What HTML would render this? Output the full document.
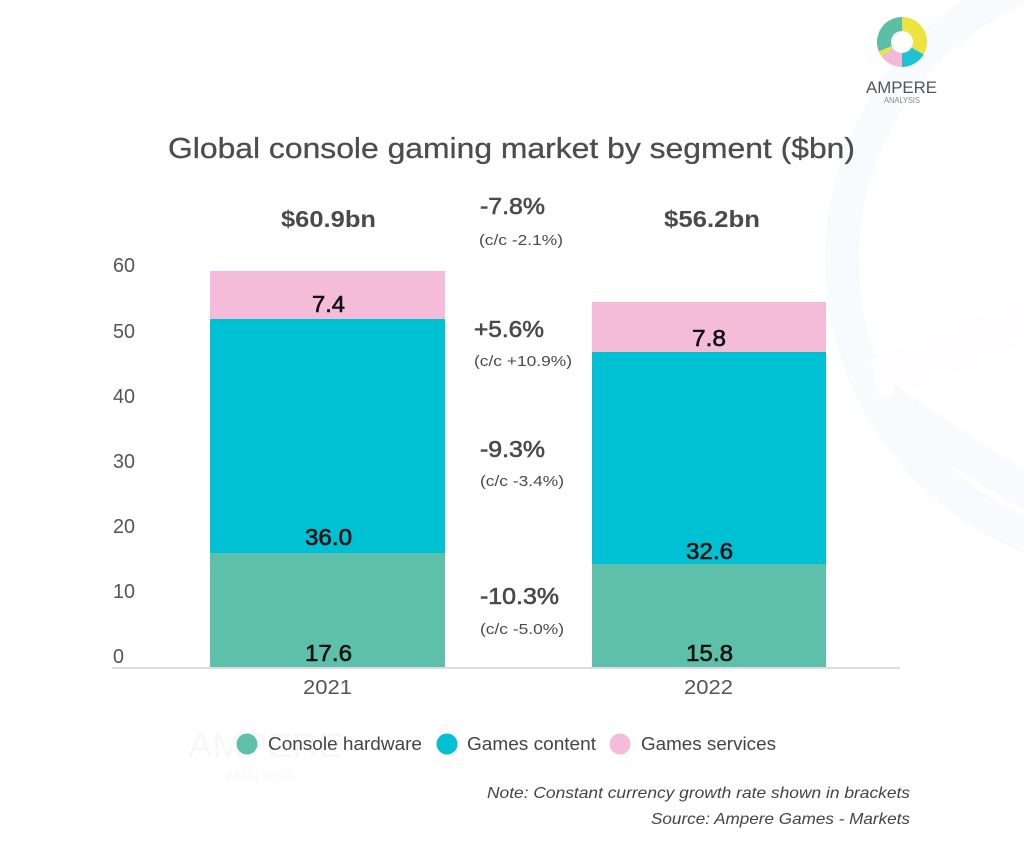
<!DOCTYPE html>
<html><head><meta charset="utf-8"><style>
html,body{margin:0;padding:0;background:#fff;}
svg{display:block;}
text{font-family:"Liberation Sans",sans-serif;}
</style></head><body>
<svg width="1024" height="858" viewBox="0 0 1024 858" xmlns="http://www.w3.org/2000/svg">
<rect width="1024" height="858" fill="#ffffff"/>
<!-- faint background arcs -->
<circle cx="1140" cy="260" r="298" fill="none" stroke="#f7fbfe" stroke-width="34"/>
<path d="M870 360 L1024 300 L1024 345 L880 400 Z" fill="#fffdfe"/>
<path d="M895 385 L1024 470 L1024 510 L885 425 Z" fill="#f8fbfe"/>

<!-- logo -->
<g fill="none" stroke-width="14">
<circle cx="902" cy="42" r="18" stroke="#ece33f" stroke-dasharray="37.7 200" transform="rotate(-90 902 42)"/>
<circle cx="902" cy="42" r="18" stroke="#1fc1d3" stroke-dasharray="18.85 200" transform="rotate(30 902 42)"/>
<circle cx="902" cy="42" r="18" stroke="#f2b9d8" stroke-dasharray="17.3 200" transform="rotate(90 902 42)"/>
<circle cx="902" cy="42" r="18" stroke="#ece33f" stroke-dasharray="4 200" transform="rotate(145 902 42)"/>
<circle cx="902" cy="42" r="18" stroke="#5cbea4" stroke-dasharray="35.2 200" transform="rotate(158 902 42)"/>
</g>
<text x="866" y="93" font-size="17" fill="#555" textLength="71" lengthAdjust="spacingAndGlyphs">AMPERE</text>
<text x="884" y="103" font-size="8" fill="#888" textLength="36" lengthAdjust="spacingAndGlyphs">ANALYSIS</text>

<!-- title -->
<text x="168" y="158" font-size="29" fill="#4d4d4d" stroke="#4d4d4d" stroke-width="0.3" textLength="687" lengthAdjust="spacingAndGlyphs">Global console gaming market by segment ($bn)</text>

<!-- totals -->
<text x="281" y="227" font-size="23" font-weight="bold" fill="#4a4a4a" textLength="95" lengthAdjust="spacingAndGlyphs">$60.9bn</text>
<text x="664" y="227" font-size="23" font-weight="bold" fill="#4a4a4a" textLength="96" lengthAdjust="spacingAndGlyphs">$56.2bn</text>

<!-- growth labels -->
<g fill="#4a4a4a">
<g stroke="#4a4a4a" stroke-width="0.6">
<text x="480" y="214" font-size="23" textLength="65" lengthAdjust="spacingAndGlyphs">-7.8%</text>
<text x="474" y="337" font-size="23" textLength="70" lengthAdjust="spacingAndGlyphs">+5.6%</text>
<text x="480" y="457" font-size="23" textLength="65" lengthAdjust="spacingAndGlyphs">-9.3%</text>
<text x="480" y="604" font-size="23" textLength="79" lengthAdjust="spacingAndGlyphs">-10.3%</text>
</g>
<text x="479" y="245" font-size="15" textLength="84" lengthAdjust="spacingAndGlyphs">(c/c -2.1%)</text>
<text x="474" y="366" font-size="15" textLength="98" lengthAdjust="spacingAndGlyphs">(c/c +10.9%)</text>
<text x="480" y="486" font-size="15" textLength="84" lengthAdjust="spacingAndGlyphs">(c/c -3.4%)</text>
<text x="480" y="634" font-size="15" textLength="84" lengthAdjust="spacingAndGlyphs">(c/c -5.0%)</text>
</g>

<!-- y axis labels -->
<g fill="#555" font-size="20">
<text x="113" y="272" textLength="22" lengthAdjust="spacingAndGlyphs">60</text>
<text x="113" y="338" textLength="22" lengthAdjust="spacingAndGlyphs">50</text>
<text x="113" y="403" textLength="22" lengthAdjust="spacingAndGlyphs">40</text>
<text x="113" y="468" textLength="22" lengthAdjust="spacingAndGlyphs">30</text>
<text x="113" y="533" textLength="22" lengthAdjust="spacingAndGlyphs">20</text>
<text x="113" y="598" textLength="22" lengthAdjust="spacingAndGlyphs">10</text>
<text x="113" y="663" textLength="11" lengthAdjust="spacingAndGlyphs">0</text>
</g>

<!-- bars 2021 -->
<rect x="210" y="271" width="235" height="48" fill="#f5bcda"/>
<rect x="210" y="319" width="235" height="234" fill="#00c0d4"/>
<rect x="210" y="553" width="235" height="114" fill="#5dc0aa"/>
<!-- bars 2022 -->
<rect x="592" y="302" width="234" height="50" fill="#f5bcda"/>
<rect x="592" y="352" width="234" height="212" fill="#00c0d4"/>
<rect x="592" y="564" width="234" height="103" fill="#5dc0aa"/>

<!-- axis line -->
<line x1="112" y1="668" x2="900" y2="668" stroke="#dddddd" stroke-width="2"/>

<!-- bar labels -->
<g fill="#111" stroke="#111" stroke-width="0.6" font-size="23">
<text x="312" y="312" textLength="33" lengthAdjust="spacingAndGlyphs">7.4</text>
<text x="305" y="545" textLength="47" lengthAdjust="spacingAndGlyphs">36.0</text>
<text x="305" y="661" textLength="47" lengthAdjust="spacingAndGlyphs">17.6</text>
<text x="692" y="346" textLength="34" lengthAdjust="spacingAndGlyphs">7.8</text>
<text x="686" y="559" textLength="47" lengthAdjust="spacingAndGlyphs">32.6</text>
<text x="686" y="661" textLength="47" lengthAdjust="spacingAndGlyphs">15.8</text>
</g>

<!-- x labels -->
<g fill="#555" font-size="20">
<text x="303" y="694" textLength="49" lengthAdjust="spacingAndGlyphs">2021</text>
<text x="684" y="694" textLength="49" lengthAdjust="spacingAndGlyphs">2022</text>
</g>

<!-- faint watermark -->
<text x="188" y="757" font-size="34" fill="#f7f7f7" textLength="155" lengthAdjust="spacingAndGlyphs">AMPERE</text>
<text x="225" y="780" font-size="12" fill="#f7f7f7" textLength="70" lengthAdjust="spacingAndGlyphs">ANALYSIS</text>

<!-- legend -->
<circle cx="247" cy="744" r="10.5" fill="#5dc0aa"/>
<circle cx="447" cy="744" r="10.5" fill="#00c0d4"/>
<circle cx="620" cy="744" r="10.5" fill="#f5bcda"/>
<g fill="#444" font-size="18">
<text x="268" y="750" textLength="154" lengthAdjust="spacingAndGlyphs">Console hardware</text>
<text x="467" y="750" textLength="129" lengthAdjust="spacingAndGlyphs">Games content</text>
<text x="641" y="750" textLength="135" lengthAdjust="spacingAndGlyphs">Games services</text>
</g>

<!-- notes -->
<g fill="#444" font-size="16" font-style="italic">
<text x="487" y="798" textLength="423" lengthAdjust="spacingAndGlyphs">Note: Constant currency growth rate shown in brackets</text>
<text x="651" y="824" textLength="259" lengthAdjust="spacingAndGlyphs">Source: Ampere Games - Markets</text>
</g>
</svg>
</body></html>
